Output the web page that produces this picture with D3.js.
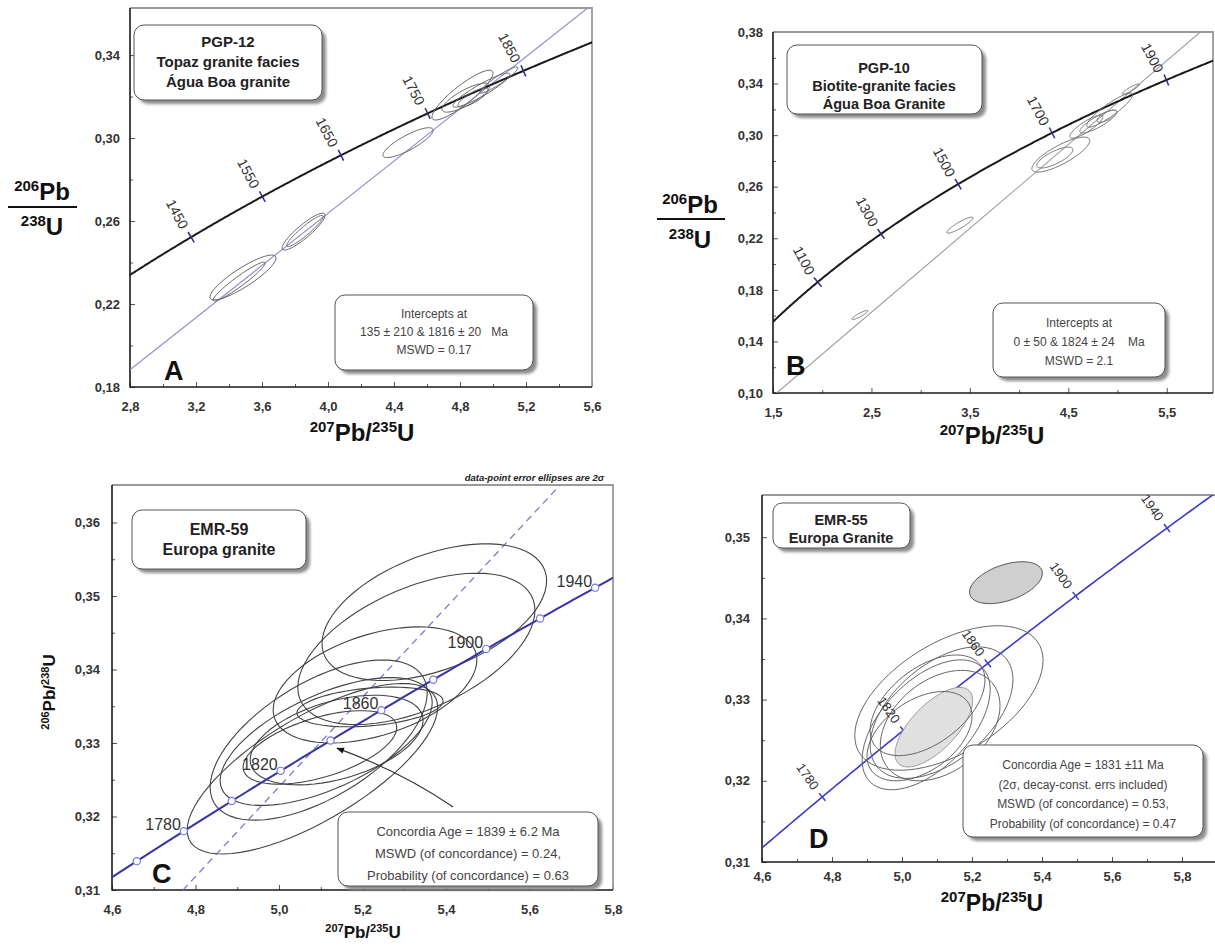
<!DOCTYPE html>
<html>
<head>
<meta charset="utf-8">
<script src="https://cdn.jsdelivr.net/npm/d3@7"></script>
<style>
  body { margin: 0; background: #fff; }
  svg text { font-family: "Liberation Sans", Arial, sans-serif; }
</style>
</head>
<body>
<script>
// U-Pb concordia diagrams, four samples (A-D)

// ---- panel A : PGP-12 ----
var aXTicks = [2.8, 3.2, 3.6, 4.0, 4.4, 4.8, 5.2, 5.6];
var aXMinor = [3.0, 3.4, 3.8, 4.2, 4.6, 5.0, 5.4];
var aYTicks = [0.18, 0.22, 0.26, 0.30, 0.34];
var aYMinor = [0.20, 0.24, 0.28, 0.32];
var aAges = [1450, 1550, 1650, 1750, 1850];
var aIntercepts = [135, 1816];
// [207Pb/235U, 206Pb/238U, sigma x, sigma y, rho]
var aEllipses = [
  [3.485, 0.2328, 0.200, 0.0108, 0.87],
  [3.461, 0.2308, 0.158, 0.0094, 0.95],
  [3.852, 0.2549, 0.130, 0.0089, 0.89],
  [3.860, 0.2552, 0.110, 0.0075, 0.93],
  [4.485, 0.2978, 0.152, 0.0072, 0.83],
  [4.815, 0.3207, 0.185, 0.0120, 0.88],
  [4.836, 0.3195, 0.145, 0.0070, 0.80],
  [4.879, 0.3195, 0.091, 0.0046, 0.80],
  [5.036, 0.3280, 0.115, 0.0063, 0.93],
  [4.930, 0.3231, 0.173, 0.0082, 0.92]
];

// ---- panel B : PGP-10 ----
var bXTicks = [1.5, 2.5, 3.5, 4.5, 5.5];
var bXMinor = [2.0, 3.0, 4.0, 5.0];
var bYTicks = [0.10, 0.14, 0.18, 0.22, 0.26, 0.30, 0.34, 0.38];
var bYMinor = [0.12, 0.16, 0.20, 0.24, 0.28, 0.32, 0.36];
var bAges = [1100, 1300, 1500, 1700, 1900];
var bIntercepts = [0, 1824];
var bEllipses = [
  [2.383, 0.1605, 0.081, 0.0035, 0.90],
  [3.399, 0.2302, 0.132, 0.0062, 0.90],
  [4.424, 0.2849, 0.294, 0.0136, 0.80],
  [4.363, 0.2826, 0.183, 0.0081, 0.75],
  [4.683, 0.3066, 0.168, 0.0089, 0.85],
  [4.805, 0.3105, 0.188, 0.0089, 0.85],
  [4.921, 0.3194, 0.234, 0.0132, 0.90],
  [4.891, 0.3147, 0.100, 0.0047, 0.70],
  [5.135, 0.3357, 0.086, 0.0039, 0.90]
];

// ---- panel C : EMR-59 ----
var cXTicks = [4.6, 4.8, 5.0, 5.2, 5.4, 5.6, 5.8];
var cXMinor = [4.7, 4.9, 5.1, 5.3, 5.5, 5.7];
var cYTicks = [0.31, 0.32, 0.33, 0.34, 0.35, 0.36];
var cYMinor = [0.315, 0.325, 0.335, 0.345, 0.355];
var cMarkerAges = [1760, 1780, 1800, 1820, 1840, 1860, 1880, 1900, 1920, 1940];
var cLabelAges = [1780, 1820, 1860, 1900, 1940];
var cRefLine = [[4.77, 0.31], [5.68, 0.3655]];
var cArrow = [[5.417, 0.3213], [5.139, 0.3293]];
var cEllipses = [
  [5.372, 0.3478, 0.269, 0.0093, 0.46],
  [5.329, 0.3428, 0.284, 0.0103, 0.51],
  [5.230, 0.3379, 0.244, 0.0079, 0.43],
  [5.218, 0.3349, 0.175, 0.0027, 0.30],
  [5.080, 0.3265, 0.300, 0.0116, 0.72],
  [5.113, 0.3302, 0.254, 0.0087, 0.61],
  [5.098, 0.3294, 0.184, 0.0050, 0.54],
  [5.095, 0.3304, 0.260, 0.0109, 0.59],
  [5.138, 0.3304, 0.207, 0.0061, 0.44]
];

// ---- panel D : EMR-55 ----
var dXTicks = [4.6, 4.8, 5.0, 5.2, 5.4, 5.6, 5.8];
var dXMinor = [4.7, 4.9, 5.1, 5.3, 5.5, 5.7];
var dYTicks = [0.31, 0.32, 0.33, 0.34, 0.35];
var dYMinor = [0.315, 0.325, 0.335, 0.345];
var dAges = [1780, 1820, 1860, 1900, 1940];
var dEllipses = [
  [5.134, 0.3302, 0.269, 0.0089, 0.52],
  [5.113, 0.3284, 0.204, 0.0081, 0.50],
  [5.069, 0.3269, 0.183, 0.0080, 0.54],
  [5.109, 0.3268, 0.171, 0.0068, 0.36],
  [5.073, 0.3293, 0.164, 0.0062, 0.50],
  [5.050, 0.3255, 0.150, 0.0055, 0.45]
];
var dExcluded = [5.297, 0.3444, 0.104, 0.00258, 0.45];
var dConcAge = [5.091, 0.3266, 0.111, 0.0049, 0.67];

// decay constants (per Ma)
var L238 = 1.55125e-4, L235 = 9.8485e-4;
function concordia(t) {
  return [Math.exp(L235 * t) - 1, Math.exp(L238 * t) - 1];
}

var svg = d3.select("body").append("svg").attr("width", 1215).attr("height", 947);
var defs = svg.append("defs");
defs.append("filter").attr("id", "soft")
  .attr("x", "-20%").attr("y", "-20%").attr("width", "140%").attr("height", "140%")
  .append("feGaussianBlur").attr("stdDeviation", 1.6);
defs.append("marker").attr("id", "arrow").attr("viewBox", "0 0 10 10")
  .attr("refX", 9).attr("refY", 5).attr("markerWidth", 8).attr("markerHeight", 7)
  .attr("orient", "auto")
  .append("path").attr("d", "M0,1 L10,5 L0,9 z").attr("fill", "#111");

function comma(v, d) { return v.toFixed(d).replace(".", ","); }

function makePanel(p) {
  var x = d3.scaleLinear().domain(p.xd).range([p.left, p.right]);
  var y = d3.scaleLinear().domain(p.yd).range([p.bottom, p.top]);
  var g = svg.append("g");

  defs.append("clipPath").attr("id", "clip" + p.name).append("rect")
    .attr("x", p.left).attr("y", p.top)
    .attr("width", p.right - p.left).attr("height", p.bottom - p.top);

  // axes, ticks pointing inwards
  g.append("g").attr("transform", "translate(0," + p.bottom + ")")
    .call(d3.axisBottom(x).tickValues(p.xt).tickFormat(function(d) { return comma(d, p.xdec); })
      .tickSizeInner(-5).tickSizeOuter(0).tickPadding(p.xpad));
  g.append("g").attr("transform", "translate(0," + p.bottom + ")")
    .call(d3.axisBottom(x).tickValues(p.xm).tickFormat("").tickSizeInner(-3).tickSizeOuter(0));
  g.append("g").attr("transform", "translate(" + p.left + ",0)")
    .call(d3.axisLeft(y).tickValues(p.yt).tickFormat(function(d) { return comma(d, 2); })
      .tickSizeInner(-5).tickSizeOuter(0).tickPadding(p.ypad));
  g.append("g").attr("transform", "translate(" + p.left + ",0)")
    .call(d3.axisLeft(y).tickValues(p.ym).tickFormat("").tickSizeInner(-3).tickSizeOuter(0));
  g.selectAll(".domain").remove();
  g.selectAll(".tick line").attr("stroke", "#555");
  g.selectAll(".tick text")
    .attr("font-size", 13).attr("font-weight", "bold").attr("fill", "#333")
    .attr("font-family", "'Liberation Sans', Arial, sans-serif");

  // frame: light top/right, dark left/bottom
  g.append("path").attr("d", "M" + p.left + "," + p.top + "H" + p.right + "V" + p.bottom)
    .attr("fill", "none").attr("stroke", "#9a9a9a").attr("stroke-width", 1.8);
  g.append("path").attr("d", "M" + p.left + "," + p.top + "V" + p.bottom + "H" + p.right)
    .attr("fill", "none").attr("stroke", "#1a1a1a").attr("stroke-width", 1.6);

  var plot = g.append("g").attr("clip-path", "url(#clip" + p.name + ")");
  return { x: x, y: y, g: g, plot: plot };
}

function ellipsePts(e) {
  var q = Math.sqrt(1 - e[4] * e[4]);
  return d3.range(0, 73).map(function(i) {
    var t = i / 72 * 2 * Math.PI;
    return [e[0] + e[2] * Math.cos(t), e[1] + e[3] * (e[4] * Math.cos(t) + q * Math.sin(t))];
  });
}

function drawEllipses(P, list, stroke, width) {
  var line = d3.line().x(function(d) { return P.x(d[0]); }).y(function(d) { return P.y(d[1]); })
    .curve(d3.curveLinearClosed);
  P.plot.selectAll(null).data(list).enter().append("path")
    .attr("d", function(e) { return line(ellipsePts(e)); })
    .attr("fill", "none").attr("stroke", stroke).attr("stroke-width", width);
}

function drawConcordia(P, t0, t1, color, width) {
  var pts = d3.range(t0, t1 + 1, 2).map(concordia);
  P.plot.append("path")
    .attr("d", d3.line().x(function(d) { return P.x(d[0]); }).y(function(d) { return P.y(d[1]); })(pts))
    .attr("fill", "none").attr("stroke", color).attr("stroke-width", width);
}

function ageTicks(P, ages, len, color) {
  ages.forEach(function(t) {
    var a = concordia(t - 1), b = concordia(t + 1), c = concordia(t);
    var dx = P.x(b[0]) - P.x(a[0]), dy = P.y(b[1]) - P.y(a[1]);
    var n = Math.hypot(dx, dy), nx = -dy / n, ny = dx / n;
    var cx = P.x(c[0]), cy = P.y(c[1]);
    P.plot.append("line")
      .attr("x1", cx - nx * len).attr("y1", cy - ny * len)
      .attr("x2", cx + nx * len).attr("y2", cy + ny * len)
      .attr("stroke", color).attr("stroke-width", 1.5);
  });
}

function ageLabels(P, ages, angle, ox, oy, size) {
  ages.forEach(function(t) {
    var c = concordia(t);
    P.g.append("text")
      .attr("transform", "translate(" + (P.x(c[0]) + ox) + "," + (P.y(c[1]) + oy) + ") rotate(" + angle + ")")
      .attr("text-anchor", "end").attr("font-size", size).attr("fill", "#333")
      .text(t);
  });
}

function discordia(P, ages, color) {
  var p1 = concordia(ages[0]), p2 = concordia(ages[1]);
  var k = (p2[1] - p1[1]) / (p2[0] - p1[0]);
  var xs = [P.x.domain()[0] - 0.5, P.x.domain()[1] + 0.5];
  P.plot.append("line")
    .attr("x1", P.x(xs[0])).attr("y1", P.y(p1[1] + k * (xs[0] - p1[0])))
    .attr("x2", P.x(xs[1])).attr("y2", P.y(p1[1] + k * (xs[1] - p1[0])))
    .attr("stroke", color).attr("stroke-width", 1.1);
}

function noteBox(x0, y0, w, h, rx) {
  svg.append("rect").attr("x", x0 + 4).attr("y", y0 + 4).attr("width", w).attr("height", h)
    .attr("rx", rx).attr("fill", "#8c8c8c").attr("filter", "url(#soft)");
  svg.append("rect").attr("x", x0).attr("y", y0).attr("width", w).attr("height", h)
    .attr("rx", rx).attr("fill", "#fff").attr("stroke", "#555").attr("stroke-width", 1);
}

function textLines(cx, y0, step, lines, size, weight, fill) {
  lines.forEach(function(s, i) {
    svg.append("text").attr("x", cx).attr("y", y0 + i * step)
      .attr("text-anchor", "middle").attr("font-size", size).attr("font-weight", weight)
      .attr("fill", fill).style("white-space", "pre").text(s);
  });
}

function isoText(parent, x, y, parts, big, small, anchor) {
  var t = parent.append("text").attr("x", x).attr("y", y)
    .attr("text-anchor", anchor || "middle").attr("font-weight", "bold").attr("fill", "#111");
  var shift = 0;
  parts.forEach(function(p) {
    var up = p.sup ? -Math.round(big * 0.38) : 0;
    t.append("tspan").attr("dy", up - shift).attr("font-size", p.sup ? small : big).text(p.s);
    shift = up;
  });
  return t;
}

var pb207U235 = [{ s: "207", sup: 1 }, { s: "Pb" }, { s: "/" }, { s: "235", sup: 1 }, { s: "U" }];
var pb206U238 = [{ s: "206", sup: 1 }, { s: "Pb" }, { s: "/" }, { s: "238", sup: 1 }, { s: "U" }];

function fraction(cx, yTop, lineY, yBot, x0, x1) {
  isoText(svg, cx, yTop, [{ s: "206", sup: 1 }, { s: "Pb" }], 24, 15);
  svg.append("line").attr("x1", x0).attr("x2", x1).attr("y1", lineY).attr("y2", lineY)
    .attr("stroke", "#111").attr("stroke-width", 2);
  isoText(svg, cx, yBot, [{ s: "238", sup: 1 }, { s: "U" }], 24, 15);
}

function letter(x, y, s) {
  svg.append("text").attr("x", x).attr("y", y).attr("font-size", 27).attr("font-weight", "bold")
    .attr("fill", "#111").text(s);
}

// ================= Panel A =================
var A = makePanel({ name: "A", left: 130, right: 592, bottom: 387, top: 8,
  xd: [2.8, 5.6], yd: [0.18, 0.3627], xt: aXTicks, xm: aXMinor, yt: aYTicks, ym: aYMinor,
  xdec: 1, xpad: 15, ypad: 10 });
discordia(A, aIntercepts, "#8b8bd0");
drawConcordia(A, 1330, 1940, "#1a1a1a", 2);
ageTicks(A, aAges, 6, "#2e2e8a");
drawEllipses(A, aEllipses, "#666", 1);
ageLabels(A, aAges, 62, -11, -7, 14);
noteBox(134, 25, 188, 75, 10);
textLines(228, 47, 20, ["PGP-12", "Topaz granite facies", "Água Boa granite"], 15, "bold", "#222");
noteBox(335, 295, 198, 75, 10);
textLines(434, 318, 18, ["Intercepts at", "135 ± 210 & 1816 ± 20   Ma", "MSWD = 0.17"], 12, "normal", "#444");
letter(164, 380, "A");
fraction(42, 200, 207, 235, 8, 77);
isoText(svg, 362, 441, pb207U235, 24, 15);

// ================= Panel B =================
var B = makePanel({ name: "B", left: 773, right: 1213, bottom: 393, top: 32,
  xd: [1.5, 5.97], yd: [0.10, 0.38], xt: bXTicks, xm: bXMinor, yt: bYTicks, ym: bYMinor,
  xdec: 1, xpad: 15, ypad: 10 });
discordia(B, bIntercepts, "#9a9a9a");
drawConcordia(B, 900, 1990, "#1a1a1a", 2);
ageTicks(B, bAges, 6, "#2e2e8a");
drawEllipses(B, bEllipses, "#777", 1);
ageLabels(B, bAges, 62, -11, -6, 14);
noteBox(787, 45, 195, 69, 10);
textLines(884, 73, 18, ["PGP-10", "Biotite-granite facies", "Água Boa Granite"], 14.5, "bold", "#222");
noteBox(993, 303, 172, 74, 10);
textLines(1079, 327, 19, ["Intercepts at", "0 ± 50 & 1824 ± 24    Ma", "MSWD = 2.1"], 12, "normal", "#444");
letter(786, 375, "B");
fraction(690, 213, 219, 248, 657, 725);
isoText(svg, 992, 444, pb207U235, 24, 15);

// ================= Panel C =================
var C = makePanel({ name: "C", left: 112, right: 613, bottom: 890, top: 485,
  xd: [4.6, 5.8], yd: [0.31, 0.3651], xt: cXTicks, xm: cXMinor, yt: cYTicks, ym: cYMinor,
  xdec: 1, xpad: 15, ypad: 12 });
C.plot.append("line")
  .attr("x1", C.x(cRefLine[0][0])).attr("y1", C.y(cRefLine[0][1]))
  .attr("x2", C.x(cRefLine[1][0])).attr("y2", C.y(cRefLine[1][1]))
  .attr("stroke", "#7b7bd0").attr("stroke-width", 1.3).attr("stroke-dasharray", "7,5");
drawEllipses(C, cEllipses, "#444", 1.1);
cLabelAges.forEach(function(t) {
  var c = concordia(t);
  C.g.append("text").attr("x", C.x(c[0]) - 3).attr("y", C.y(c[1]) - 1)
    .attr("text-anchor", "end").attr("font-size", 16).attr("fill", "#333").text(t);
});
drawConcordia(C, 1740, 1960, "#3434a8", 2);
C.plot.selectAll("circle").data(cMarkerAges).enter().append("circle")
  .attr("cx", function(t) { return C.x(concordia(t)[0]); })
  .attr("cy", function(t) { return C.y(concordia(t)[1]); })
  .attr("r", 3.6).attr("fill", "#fff").attr("stroke", "#7a7ad8").attr("stroke-width", 1.2);
var aT = [C.x(cArrow[0][0]), C.y(cArrow[0][1])], aH = [C.x(cArrow[1][0]), C.y(cArrow[1][1])];
C.g.append("path")
  .attr("d", "M" + aT[0] + "," + aT[1] + " Q" + ((aT[0] + aH[0]) / 2 + 6) + "," + ((aT[1] + aH[1]) / 2 - 6) + " " + aH[0] + "," + aH[1])
  .attr("fill", "none").attr("stroke", "#333").attr("stroke-width", 1.1).attr("marker-end", "url(#arrow)");
svg.append("text").attr("x", 604).attr("y", 481).attr("text-anchor", "end")
  .attr("font-size", 9.5).attr("font-style", "italic").attr("font-weight", "bold").attr("fill", "#222")
  .text("data-point error ellipses are 2σ");
noteBox(132, 510, 174, 59, 10);
textLines(219, 535, 20, ["EMR-59", "Europa granite"], 16, "bold", "#222");
noteBox(338, 812, 260, 74, 10);
textLines(468, 836, 22, ["Concordia Age = 1839 ± 6.2 Ma", "MSWD (of concordance) = 0.24,", "Probability (of concordance) = 0.63"], 13, "normal", "#444");
letter(152, 883, "C");
isoText(svg, 363, 938, pb207U235, 17, 11);
var cy = svg.append("g").attr("transform", "translate(55,692) rotate(-90)");
isoText(cy, 0, 0, pb206U238, 17, 11);

// ================= Panel D =================
var D = makePanel({ name: "D", left: 762, right: 1217, bottom: 862, top: 495,
  xd: [4.6, 5.9], yd: [0.31, 0.3552], xt: dXTicks, xm: dXMinor, yt: dYTicks, ym: dYMinor,
  xdec: 1, xpad: 10, ypad: 12 });
drawConcordia(D, 1740, 1960, "#3a3ac8", 1.6);
ageTicks(D, dAges, 5, "#3a3ac8");
ageLabels(D, dAges, 55, -10, -6, 13);
var dLine = d3.line().x(function(d) { return D.x(d[0]); }).y(function(d) { return D.y(d[1]); })
  .curve(d3.curveLinearClosed);
D.plot.append("path").attr("d", dLine(ellipsePts(dExcluded)))
  .attr("fill", "#cfcfcf").attr("stroke", "#555").attr("stroke-width", 1);
D.plot.append("path").attr("d", dLine(ellipsePts(dConcAge)))
  .attr("fill", "#e0e0e0").attr("stroke", "#888").attr("stroke-width", 0.8);
drawEllipses(D, dEllipses, "#666", 1);
noteBox(773, 503, 137, 45, 9);
textLines(841, 525, 18, ["EMR-55", "Europa Granite"], 14.5, "bold", "#222");
noteBox(963, 745, 240, 92, 10);
textLines(1083, 769, 19.7, ["Concordia Age = 1831 ±11 Ma", "(2σ, decay-const. errs included)", "MSWD (of concordance) = 0.53,", "Probability (of concordance) = 0.47"], 12, "normal", "#444");
letter(809, 848, "D");
isoText(svg, 992, 911, pb207U235, 23, 15);
</script>
</body>
</html>
